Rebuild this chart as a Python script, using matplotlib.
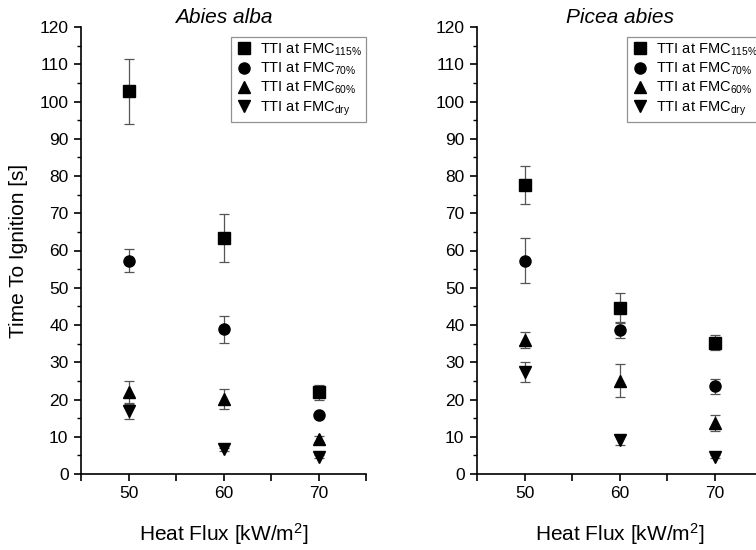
import matplotlib
matplotlib.use("Agg")
import matplotlib.pyplot as plt
from matplotlib.ticker import MultipleLocator, FixedLocator
from matplotlib.lines import Line2D

plt.rcParams['font.family'] = ['Liberation Sans', 'DejaVu Sans']
plt.rcParams['mathtext.fontset'] = 'custom'
plt.rcParams['mathtext.rm'] = 'Liberation Sans'
plt.rcParams['mathtext.it'] = 'Liberation Sans:italic'

heat_flux = [50, 60, 70]
labels = [r"TTI at FMC$_{\mathregular{115\%}}$", r"TTI at FMC$_{\mathregular{70\%}}$",
          r"TTI at FMC$_{\mathregular{60\%}}$", r"TTI at FMC$_{\mathregular{dry}}$"]
markers = ['s', 'o', '^', 'v']

# Abies alba
abies_115 = [102.7, 63.3, 21.9]
abies_115_err = [8.7, 6.5, 2.0]
abies_70 = [57.3, 38.9, 15.9]
abies_70_err = [3.0, 3.6, 0.5]
abies_60 = [21.9, 20.1, 9.3]
abies_60_err = [3.1, 2.6, 0.8]
abies_dry = [16.9, 6.6, 4.6]
abies_dry_err = [2.1, 0.5, 0.4]

# Picea abies
picea_115 = [77.6, 44.6, 35.2]
picea_115_err = [5.1, 4.1, 2.0]
picea_70 = [57.3, 38.6, 23.6]
picea_70_err = [6.0, 2.2, 2.0]
picea_60 = [36.0, 25.0, 13.7]
picea_60_err = [2.1, 4.4, 2.1]
picea_dry = [27.4, 9.1, 4.6]
picea_dry_err = [2.6, 1.2, 0.4]

panels = [
    ("Abies alba", [abies_115, abies_70, abies_60, abies_dry],
     [abies_115_err, abies_70_err, abies_60_err, abies_dry_err]),
    ("Picea abies", [picea_115, picea_70, picea_60, picea_dry],
     [picea_115_err, picea_70_err, picea_60_err, picea_dry_err]),
]

fig = plt.figure(figsize=(7.56, 5.5), dpi=100)
lefts = [81 / 756, 477 / 756]
w = 285 / 756
b = 1 - 474 / 550
h = 447 / 550

for i, (title, series, errs) in enumerate(panels):
    ax = fig.add_axes([lefts[i], b, w, h])
    handles = []
    for vals, err, m, lab in zip(series, errs, markers, labels):
        ax.errorbar(heat_flux, vals, yerr=err, fmt=m, color='black', markersize=8,
                    ecolor='#555555', elinewidth=0.9, capsize=3.5, capthick=0.9,
                    linestyle='none')
        handles.append(Line2D([], [], marker=m, color='black', linestyle='none',
                              markersize=8, label=lab))
    ax.set_xlim(45, 75)
    ax.set_ylim(0, 120)
    ax.xaxis.set_major_locator(FixedLocator([50, 60, 70]))
    ax.xaxis.set_minor_locator(FixedLocator([45, 55, 65, 75]))
    ax.yaxis.set_major_locator(MultipleLocator(10))
    ax.yaxis.set_minor_locator(MultipleLocator(5))
    ax.spines['top'].set_visible(False)
    ax.spines['right'].set_visible(False)
    for s in ['left', 'bottom']:
        ax.spines[s].set_linewidth(1.2)
    ax.tick_params(which='major', direction='out', length=5, width=1.2, labelsize=12.5, pad=4)
    ax.tick_params(which='minor', direction='out', length=3, width=1.0)
    ax.tick_params(axis='x', which='minor', length=5, width=1.2)
    ax.set_title(title, fontsize=15, style='italic', pad=3)
    ax.set_xlabel(r"Heat Flux [kW/m$^{\mathregular{2}}$]", fontsize=15, labelpad=14)
    if i == 0:
        ax.set_ylabel("Time To Ignition [s]", fontsize=15, labelpad=8)
    leg = ax.legend(handles=handles, loc='upper right', bbox_to_anchor=(1.0, 1 - 10 / 447),
                    borderaxespad=0, fontsize=10.5, frameon=True, fancybox=False,
                    edgecolor='#777777', handletextpad=0.5, labelspacing=0.2,
                    borderpad=0.3, handlelength=1.2)
    leg.get_frame().set_linewidth(0.9)

fig.savefig("out.png", dpi=100)
